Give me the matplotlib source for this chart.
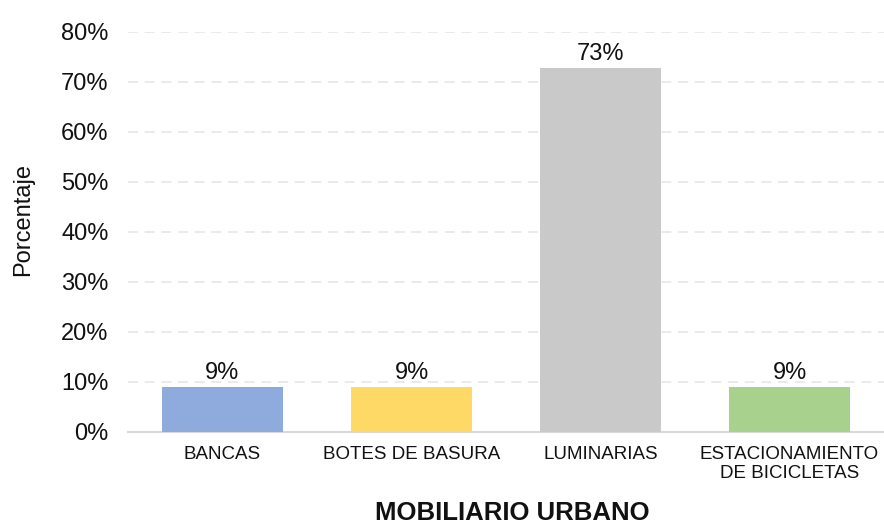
import matplotlib
matplotlib.use("Agg")
import matplotlib.pyplot as plt
from matplotlib.ticker import FuncFormatter

categories = ["BANCAS", "BOTES DE BASURA", "LUMINARIAS", "ESTACIONAMIENTO\nDE BICICLETAS"]
values = [9.09, 9.09, 72.73, 9.09]
labels = ["9%", "9%", "73%", "9%"]
colors = ["#8FAADC", "#FFD966", "#C9C9C9", "#A9D18E"]
yticks = [0, 10, 20, 30, 40, 50, 60, 70, 80]

plt.rcParams['font.family'] = ['Liberation Sans', 'DejaVu Sans']
txt = '#111111'

fig = plt.figure(figsize=(8.84, 5.25), dpi=100)
ax = fig.add_axes([128/884, 93/525, 756/884, 400/525])

x = range(len(categories))
bars = ax.bar(x, values, width=0.645, color=colors, zorder=3)
for xi, v, l in zip(x, values, labels):
    ax.text(xi, v + 0.6, l, ha='center', va='bottom', fontsize=17, color=txt)

ax.set_xlim(-0.5, len(categories) - 0.5)
ax.set_ylim(0, 80)
ax.set_yticks(yticks)
ax.yaxis.set_major_formatter(FuncFormatter(lambda v, p: f"{int(v)}%"))
ax.grid(axis='y', color='#E6E6E6', linestyle=(0, (6, 4)), linewidth=1.2, zorder=0)
ax.set_xticks(list(x))
ax.set_xticklabels(categories, fontsize=13.5, color=txt)
ax.tick_params(axis='y', labelsize=17, length=0, pad=14, colors=txt)
ax.tick_params(axis='x', length=0, pad=10)
for s in ['top', 'right', 'left']:
    ax.spines[s].set_visible(False)
ax.spines['bottom'].set_color('#D9D9D9')
ax.spines['bottom'].set_linewidth(1.5)

fig.text(23/884, 1 - 219/525, "Porcentaje", rotation=90, ha='center', va='center',
         fontsize=17, color=txt)
fig.text(512/884, 1 - 513/525, "MOBILIARIO URBANO", ha='center', va='center',
         fontsize=18.5, fontweight='bold', color=txt)

fig.savefig("out.png", dpi=100)
